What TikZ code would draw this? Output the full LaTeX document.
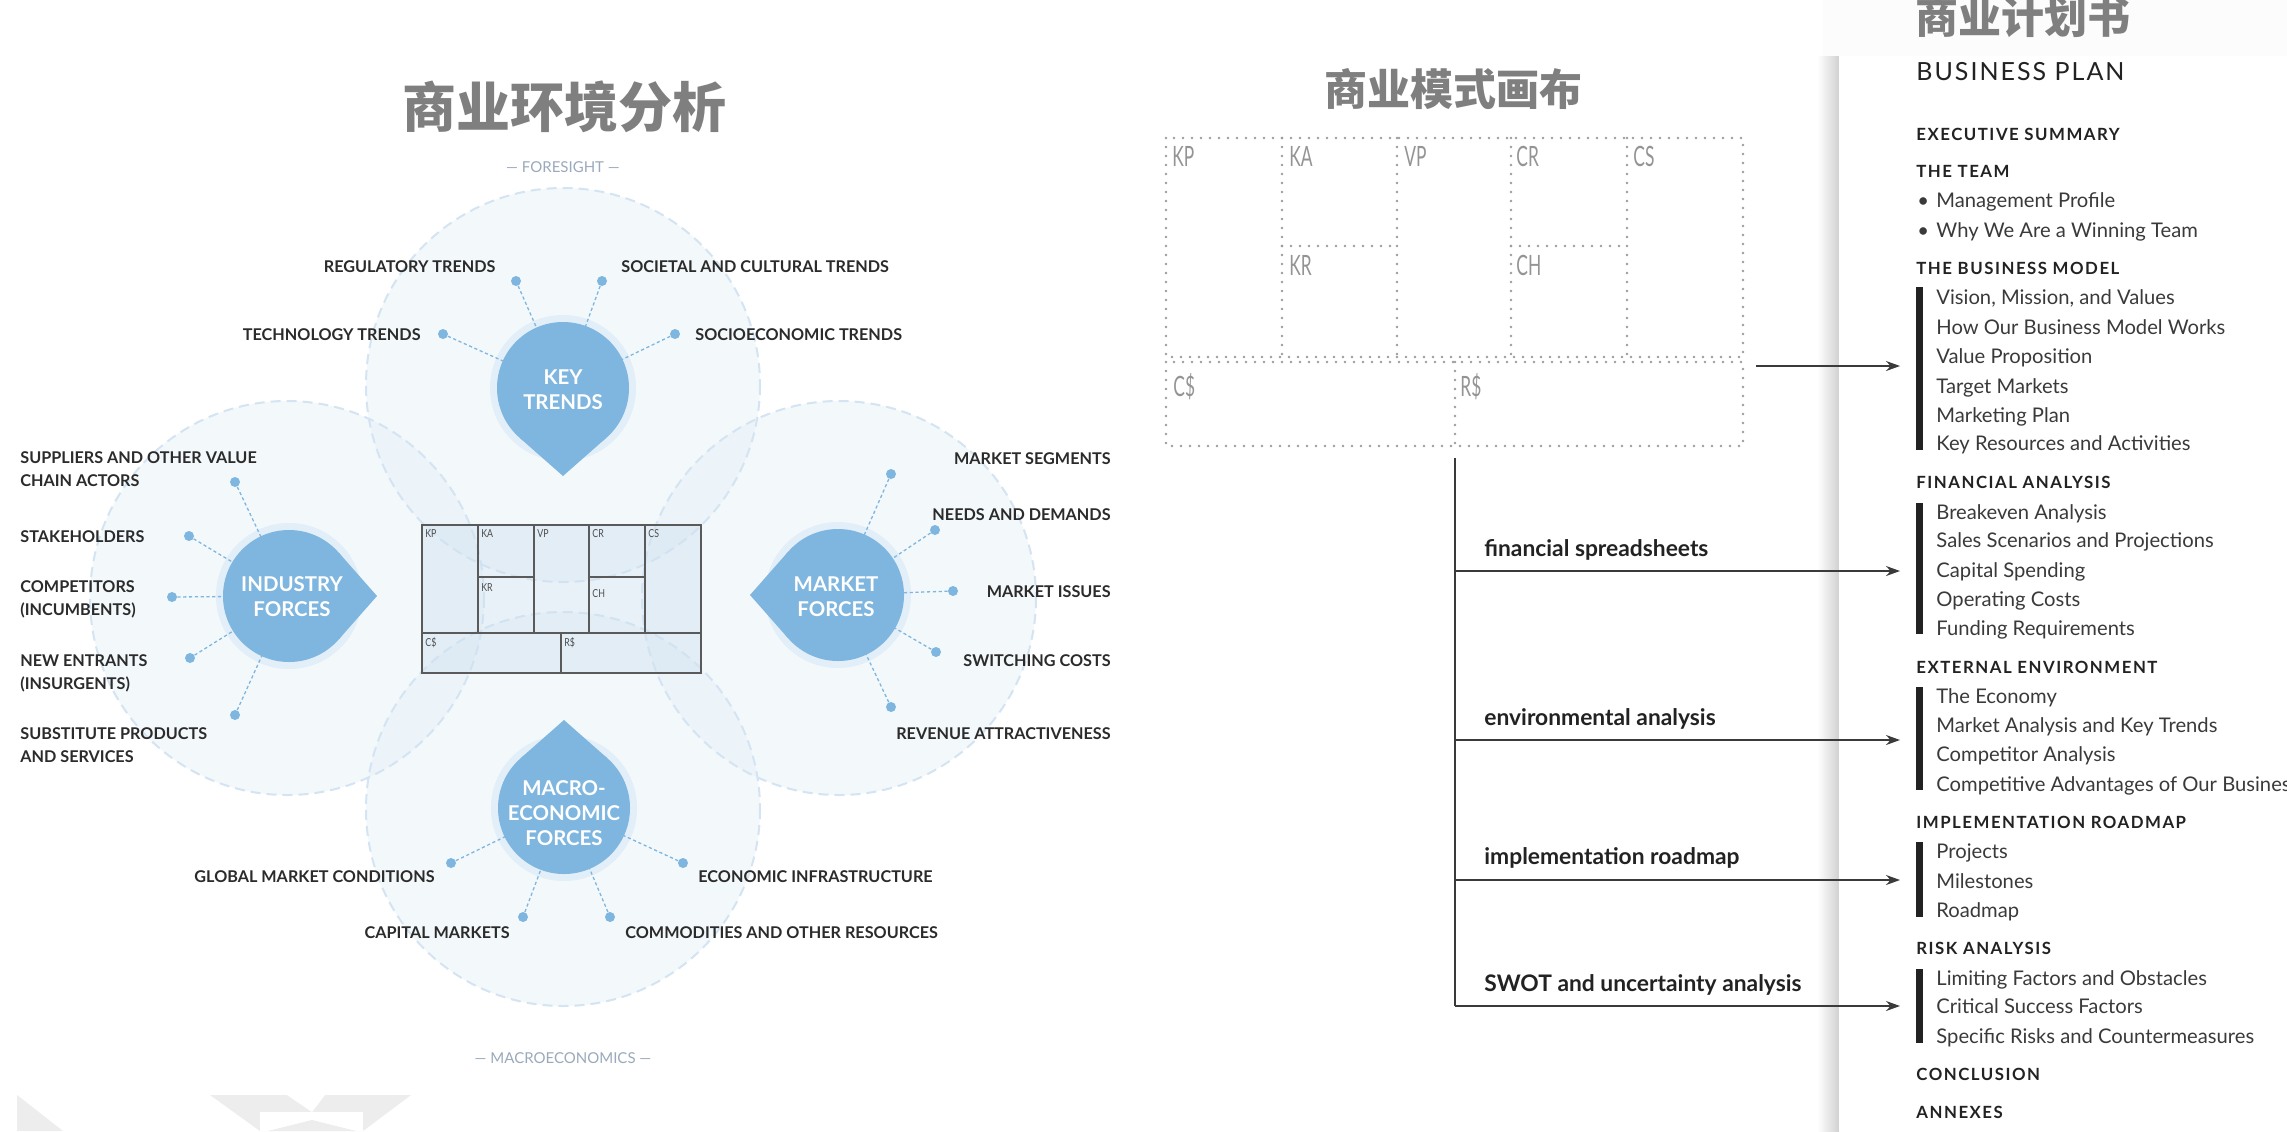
\documentclass[tikz,border=0pt]{standalone}
\usepackage{fontspec}
\usepackage{graphicx}
\setmainfont{Lato}
\newfontfamily\latosp[LetterSpace=9]{Lato}
\newfontfamily\latobp[LetterSpace=8]{Lato}
\newfontfamily\cjk{Noto Sans CJK SC}
\usetikzlibrary{arrows.meta,calc}
\definecolor{dropc}{HTML}{7FB6DF}
\definecolor{haloc}{HTML}{E2EEF8}
\definecolor{circc}{HTML}{E3EEF7}
\definecolor{circb}{HTML}{D4E4F2}
\definecolor{labc}{HTML}{2B2B2B}
\definecolor{titc}{HTML}{7F7F7F}
\definecolor{capc}{HTML}{9AAABB}
\definecolor{dotg}{HTML}{9C9C9C}
\definecolor{wmc}{HTML}{EDEDED}
\definecolor{linec}{HTML}{3A3A3A}
\definecolor{itemc}{HTML}{3A3A3A}
\definecolor{headc}{HTML}{222222}
\definecolor{cvline}{HTML}{5A5A5A}
\definecolor{cvfill}{HTML}{CFE1F0}
\newcommand\labfont{\fontsize{8.1}{11.5}\selectfont\bfseries}
\newcommand\dropfont{\fontsize{10.2}{12.5}\selectfont\bfseries}
\newcommand\itemfont{\fontsize{10.1}{12}\selectfont}
\newcommand\headfont{\latosp\fontsize{8.4}{10}\selectfont\bfseries}
\newcommand\mydrop[2]{%
  \fill[dropc] (#1) circle[radius=66];
  \fill[dropc] ($(#1)+(#2:88)$) -- ($(#1)+(#2+41:66)$) -- ($(#1)+(#2-41:66)$) -- cycle;}
\begin{document}
\begin{tikzpicture}[x=0.5pt,y=-0.5pt,
  lab/.style={font=\labfont, text=labc, inner sep=0pt},
  dotn/.style={circle, fill=dropc, minimum size=5pt, inner sep=0pt},
  conn/.style={dropc, line width=0.65pt, dash pattern=on 1.6pt off 1.3pt},
  droptext/.style={font=\dropfont, text=white, align=center, inner sep=0pt},
  bigc/.style={circc, fill opacity=0.4},
  bigb/.style={circb, line width=1pt, dash pattern=on 5pt off 3pt},
  cvl/.style={cvline, line width=0.6pt},
  cvlab/.style={font=\fontsize{5.5}{6}\selectfont, text=black!70, inner sep=0pt, anchor=north west},
  dotl/.style={dotg, line width=1.4pt, line cap=round, dash pattern=on 0pt off 4.5pt},
  bml/.style={font=\fontsize{14}{14}\selectfont, text=black!42, inner sep=0pt, anchor=north west},
  arr/.style={-{Stealth[length=7pt,width=5pt]}, linec, line width=0.7pt},
  midlab/.style={font=\fontsize{11.4}{13}\selectfont\bfseries, text=headc, inner sep=0pt, anchor=base west},
  item/.style={anchor=base west, inner sep=0pt, font=\itemfont, text=itemc},
  head/.style={anchor=base west, inner sep=0pt, font=\headfont, text=headc},
  bar/.style={fill=headc},
  cjkt/.style={text=titc, inner sep=0pt},
  capt/.style={font=\fontsize{7.5}{8}\selectfont, text=capc, inner sep=0pt}
]
\useasboundingbox (0,0) rectangle (2287,1131);
\clip (0,0) rectangle (2287,1131);
\fill[white] (0,0) rectangle (2287,1131);

% watermark shapes
\fill[wmc] (17,1095) -- (63,1131) -- (17,1131) -- cycle;
\fill[wmc] (210,1095) -- (411,1095) -- (363,1131) -- (260,1131) -- cycle;
\fill[white] (287,1095) -- (325,1095) -- (312,1112) -- cycle;
\fill[white] (260,1112) rectangle (363,1131);
\fill[wmc] (312,1120) -- (356,1131) -- (268,1131) -- cycle;

% ===== left panel =====
\node[cjkt, font=\cjk\bfseries\fontsize{27}{30}\selectfont] (t-left) at (564,107) {商业环境分析};
\node[capt] (foresight) at (563,167) {— FORESIGHT —};
\node[capt] (macroecon) at (563,1058) {— MACROECONOMICS —};

\foreach \cx/\cy in {563/385, 287/598, 839/598, 563/809}
  \fill[bigc] (\cx,\cy) circle[radius=197];
\foreach \cx/\cy in {563/385, 287/598, 839/598, 563/809}
  \draw[bigb] (\cx,\cy) circle[radius=197];

% small canvas
\fill[cvfill, fill opacity=0.45] (422,525) rectangle (701,673);
\draw[cvl] (422,525) rectangle (701,673);
\foreach \x in {478,534,589,645} \draw[cvl] (\x,525) -- (\x,633);
\draw[cvl] (422,633) -- (701,633);
\draw[cvl] (478,577) -- (534,577);
\draw[cvl] (589,577) -- (645,577);
\draw[cvl] (561,633) -- (561,673);
\node[cvlab] (s-kp) at (425,529) {\scalebox{0.8}[1]{KP}};
\node[cvlab] (s-ka) at (481,529) {\scalebox{0.8}[1]{KA}};
\node[cvlab] (s-vp) at (537,529) {\scalebox{0.8}[1]{VP}};
\node[cvlab] (s-cr) at (592,529) {\scalebox{0.8}[1]{CR}};
\node[cvlab] (s-cs) at (648,529) {\scalebox{0.8}[1]{CS}};
\node[cvlab] (s-kr) at (481,583) {\scalebox{0.8}[1]{KR}};
\node[cvlab] (s-ch) at (592,589) {\scalebox{0.8}[1]{CH}};
\node[cvlab] (s-cd) at (425,637) {\scalebox{0.8}[1]{C\$}};
\node[cvlab] (s-rd) at (564,637) {\scalebox{0.8}[1]{R\$}};

% drop centres and halos
\coordinate (kt) at (563,388);
\coordinate (if) at (289,596);
\coordinate (mf) at (838,595);
\coordinate (me) at (564,808);
\foreach \p in {kt,if,mf,me} \fill[haloc] (\p) circle[radius=73];

% dots
\node[dotn] (dk1) at (516,281) {};
\node[dotn] (dk2) at (602,281) {};
\node[dotn] (dk3) at (443,334) {};
\node[dotn] (dk4) at (675,334) {};
\node[dotn] (di1) at (235,482) {};
\node[dotn] (di2) at (189,536) {};
\node[dotn] (di3) at (172,597) {};
\node[dotn] (di4) at (190,658) {};
\node[dotn] (di5) at (235,715) {};
\node[dotn] (dm1) at (891,474) {};
\node[dotn] (dm2) at (935,530) {};
\node[dotn] (dm3) at (953,591) {};
\node[dotn] (dm4) at (936,652) {};
\node[dotn] (dm5) at (891,707) {};
\node[dotn] (de1) at (451,863) {};
\node[dotn] (de2) at (683,863) {};
\node[dotn] (de3) at (523,917) {};
\node[dotn] (de4) at (610,917) {};
\foreach \d/\c in {dk1/kt,dk2/kt,dk3/kt,dk4/kt,di1/if,di2/if,di3/if,di4/if,di5/if,dm1/mf,dm2/mf,dm3/mf,dm4/mf,dm5/mf,de1/me,de2/me,de3/me,de4/me}
  \draw[conn] (\d) -- (\c);

% drops
\mydrop{kt}{90}
\mydrop{if}{0}
\mydrop{mf}{180}
\mydrop{me}{-90}
\node[droptext] (tkt) at (563,390) {KEY\\TRENDS};
\node[droptext] (tif) at (292,597) {INDUSTRY\\FORCES};
\node[droptext] (tmf) at (836,597) {MARKET\\FORCES};
\node[droptext] (tme) at (564,813) {MACRO-\\ECONOMIC\\FORCES};

% labels
\node[lab, anchor=base east] (lk1) at (496,272) {REGULATORY TRENDS};
\node[lab, anchor=base west] (lk2) at (621,272) {SOCIETAL AND CULTURAL TRENDS};
\node[lab, anchor=base east] (lk3) at (421,340) {TECHNOLOGY TRENDS};
\node[lab, anchor=base west] (lk4) at (695,340) {SOCIOECONOMIC TRENDS};
\node[lab, anchor=north west, align=left] (li1) at (20,451) {SUPPLIERS AND OTHER VALUE\\CHAIN ACTORS};
\node[lab, anchor=base west] (li2) at (20,542) {STAKEHOLDERS};
\node[lab, anchor=north west, align=left] (li3) at (20,580) {COMPETITORS\\(INCUMBENTS)};
\node[lab, anchor=north west, align=left] (li4) at (20,654) {NEW ENTRANTS\\(INSURGENTS)};
\node[lab, anchor=north west, align=left] (li5) at (20,727) {SUBSTITUTE PRODUCTS\\AND SERVICES};
\node[lab, anchor=base east] (lm1) at (1111,464) {MARKET SEGMENTS};
\node[lab, anchor=base east] (lm2) at (1111,520) {NEEDS AND DEMANDS};
\node[lab, anchor=base east] (lm3) at (1111,597) {MARKET ISSUES};
\node[lab, anchor=base east] (lm4) at (1111,666) {SWITCHING COSTS};
\node[lab, anchor=base east] (lm5) at (1111,739) {REVENUE ATTRACTIVENESS};
\node[lab, anchor=base east] (le1) at (435,882) {GLOBAL MARKET CONDITIONS};
\node[lab, anchor=base west] (le2) at (698,882) {ECONOMIC INFRASTRUCTURE};
\node[lab, anchor=base east] (le3) at (510,938) {CAPITAL MARKETS};
\node[lab, anchor=base west] (le4) at (625,938) {COMMODITIES AND OTHER RESOURCES};

% ===== right panel background =====
\fill[black!1] (1823,0) rectangle (2287,56);
\shade[left color=white, right color=black!18] (1817,56) rectangle (1839,1131);
\fill[white] (1839,56) rectangle (2287,1131);

% ===== middle panel =====
\node[cjkt, font=\cjk\bfseries\fontsize{21.5}{24}\selectfont] (t-mid) at (1453,89) {商业模式画布};
\draw[dotl] (1166,138) rectangle (1743,357);
\foreach \x in {1282,1397,1511,1627} \draw[dotl] (\x,138) -- (\x,357);
\draw[dotl] (1282,246) -- (1397,246);
\draw[dotl] (1511,246) -- (1627,246);
\draw[dotl] (1166,362) rectangle (1743,446);
\draw[dotl] (1455,362) -- (1455,446);
\node[bml] (b-kp) at (1172,146) {\scalebox{0.62}[1]{KP}};
\node[bml] (b-ka) at (1289,146) {\scalebox{0.62}[1]{KA}};
\node[bml] (b-vp) at (1404,146) {\scalebox{0.62}[1]{VP}};
\node[bml] (b-cr) at (1516,146) {\scalebox{0.62}[1]{CR}};
\node[bml] (b-cs) at (1633,146) {\scalebox{0.62}[1]{CS}};
\node[bml] (b-kr) at (1289,255) {\scalebox{0.62}[1]{KR}};
\node[bml] (b-ch) at (1516,255) {\scalebox{0.62}[1]{CH}};
\node[bml] (b-cd) at (1173,373) {\scalebox{0.62}[1]{C\$}};
\node[bml] (b-rd) at (1460,373) {\scalebox{0.62}[1]{R\$}};

\coordinate (a0s) at (1756,366);
\coordinate (a0e) at (1900,366);
\coordinate (vt) at (1455,458);
\coordinate (j1) at (1455,571);
\coordinate (j2) at (1455,740);
\coordinate (j3) at (1455,880);
\coordinate (j4) at (1455,1006);
\coordinate (e1) at (1900,571);
\coordinate (e2) at (1900,740);
\coordinate (e3) at (1900,880);
\coordinate (e4) at (1900,1006);
\draw[arr] (a0s) -- (a0e);
\draw[linec, line width=0.7pt] (vt) -- (j4);
\foreach \j/\e in {j1/e1,j2/e2,j3/e3,j4/e4} \draw[arr] (\j) -- (\e);
\node[midlab] (m1) at (1484,556) {financial spreadsheets};
\node[midlab] (m2) at (1484,725) {environmental analysis};
\node[midlab] (m3) at (1484,864) {implementation roadmap};
\node[midlab] (m4) at (1484,991) {SWOT and uncertainty analysis};

% ===== right panel text =====
\node[cjkt, font=\cjk\bfseries\fontsize{21.5}{24}\selectfont] (t-right) at (2023,17) {商业计划书};
\node[anchor=base west, inner sep=0pt, font=\latobp\fontsize{12.5}{14}\selectfont, text=headc] (bp) at (1916,80) {BUSINESS PLAN};

\node[head] (h1) at (1916,140) {EXECUTIVE SUMMARY};
\node[head] (h2) at (1916,177) {THE TEAM};
\node[item] (bu1) at (1917,207) {•};
\node[item] (bu2) at (1917,237) {•};
\node[item] (i01) at (1936,207) {Management Profile};
\node[item] (i02) at (1936,237) {Why We Are a Winning Team};
\node[head] (h3) at (1916,274) {THE BUSINESS MODEL};
\fill[bar] (1916,287) rectangle (1923,450);
\node[item] (i03) at (1936,304) {Vision, Mission, and Values};
\node[item] (i04) at (1936,334) {How Our Business Model Works};
\node[item] (i05) at (1936,363) {Value Proposition};
\node[item] (i06) at (1936,393) {Target Markets};
\node[item] (i07) at (1936,422) {Marketing Plan};
\node[item] (i08) at (1936,450) {Key Resources and Activities};
\node[head] (h4) at (1916,488) {FINANCIAL ANALYSIS};
\fill[bar] (1916,503) rectangle (1923,634);
\node[item] (i09) at (1936,519) {Breakeven Analysis};
\node[item] (i10) at (1936,547) {Sales Scenarios and Projections};
\node[item] (i11) at (1936,577) {Capital Spending};
\node[item] (i12) at (1936,606) {Operating Costs};
\node[item] (i13) at (1936,635) {Funding Requirements};
\node[head] (h5) at (1916,673) {EXTERNAL ENVIRONMENT};
\fill[bar] (1916,687) rectangle (1923,790);
\node[item] (i14) at (1936,703) {The Economy};
\node[item] (i15) at (1936,732) {Market Analysis and Key Trends};
\node[item] (i16) at (1936,761) {Competitor Analysis};
\node[item] (i17) at (1936,791) {Competitive Advantages of Our Business};
\node[head] (h6) at (1916,828) {IMPLEMENTATION ROADMAP};
\fill[bar] (1916,842) rectangle (1923,917);
\node[item] (i18) at (1936,858) {Projects};
\node[item] (i19) at (1936,888) {Milestones};
\node[item] (i20) at (1936,917) {Roadmap};
\node[head] (h7) at (1916,954) {RISK ANALYSIS};
\fill[bar] (1916,969) rectangle (1923,1043);
\node[item] (i21) at (1936,985) {Limiting Factors and Obstacles};
\node[item] (i22) at (1936,1013) {Critical Success Factors};
\node[item] (i23) at (1936,1043) {Specific Risks and Countermeasures};
\node[head] (h8) at (1916,1080) {CONCLUSION};
\node[head] (h9) at (1916,1118) {ANNEXES};
\end{tikzpicture}
\end{document}
